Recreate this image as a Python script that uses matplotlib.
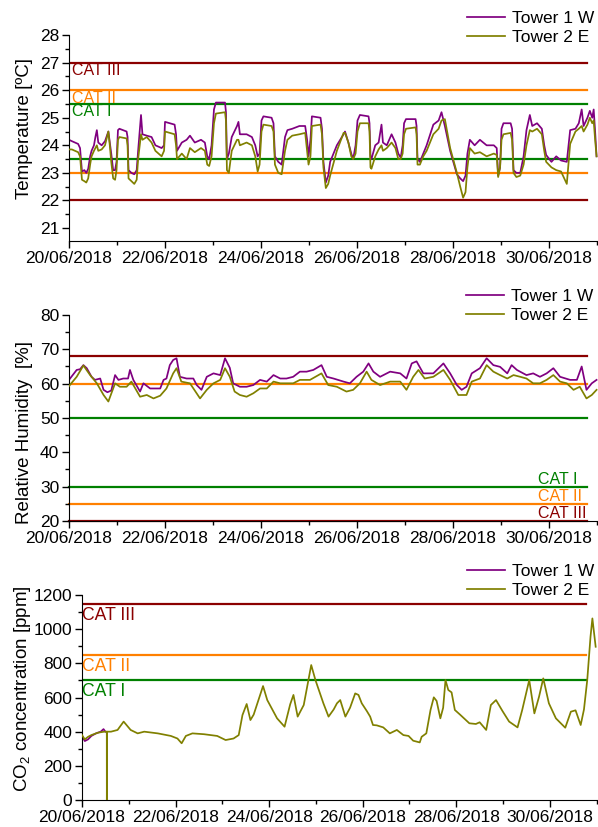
import numpy as np
import matplotlib
matplotlib.use('Agg')
import matplotlib.pyplot as plt
from matplotlib.ticker import MultipleLocator

plt.rcParams['font.family'] = ['Liberation Sans', 'DejaVu Sans']
plt.rcParams['mathtext.fontset'] = 'custom'
plt.rcParams['mathtext.rm'] = 'Liberation Sans'
plt.rcParams['mathtext.it'] = 'Liberation Sans:italic'

##############################################
# Data (x = days since 20/06/2018 00:00)

date_ticks  = [0, 2, 4, 6, 8, 10]
date_labels = ['20/06/2018', '22/06/2018', '24/06/2018', '26/06/2018', '28/06/2018', '30/06/2018']
series_names = ['Tower 1 W', 'Tower 2 E']

# Temperature, Tower 1 W
t_temp_w = [0.00, 0.06, 0.19, 0.23, 0.27, 0.32, 0.36, 0.40, 0.44, 0.47, 0.52, 0.55, 0.58, 0.61, 0.68, 0.75,
            0.82, 0.85, 0.88, 0.92, 0.96, 0.99, 1.02, 1.05, 1.20, 1.22, 1.24, 1.30, 1.36, 1.41, 1.44, 1.50,
            1.53, 1.62, 1.72, 1.80, 1.93, 1.98, 2.00, 2.10, 2.20, 2.23, 2.25, 2.35, 2.45, 2.52, 2.62, 2.75,
            2.83, 2.88, 2.92, 2.97, 3.02, 3.06, 3.25, 3.27, 3.29, 3.33, 3.39, 3.50, 3.53, 3.56, 3.70, 3.81,
            3.88, 3.93, 3.97, 4.01, 4.05, 4.22, 4.26, 4.29, 4.36, 4.43, 4.50, 4.55, 4.65, 4.80, 4.92, 4.96,
            4.99, 5.03, 5.06, 5.24, 5.27, 5.30, 5.35, 5.40, 5.44, 5.58, 5.72, 5.75, 5.82, 5.88, 5.92, 5.97,
            6.01, 6.06, 6.24, 6.26, 6.28, 6.30, 6.38, 6.45, 6.51, 6.54, 6.62, 6.72, 6.80, 6.86, 6.91, 6.95,
            6.98, 7.02, 7.22, 7.24, 7.26, 7.31, 7.38, 7.45, 7.59, 7.70, 7.76, 7.83, 7.94, 8.08, 8.15, 8.21,
            8.26, 8.30, 8.35, 8.45, 8.56, 8.70, 8.85, 8.91, 8.94, 8.98, 9.01, 9.05, 9.20, 9.23, 9.26, 9.32,
            9.40, 9.47, 9.53, 9.60, 9.65, 9.75, 9.85, 9.90, 9.94, 10.05, 10.15, 10.25, 10.37, 10.44, 10.55,
            10.62, 10.68, 10.72, 10.80, 10.85, 10.90, 10.93, 10.96, 10.99]
temp_w = [24.2, 24.15, 24.05, 23.9, 23.05, 23.1, 23.0, 23.15, 23.6, 23.8, 24.0, 24.3, 24.55, 24.1, 24.0, 24.15,
          24.5, 24.1, 23.7, 23.1, 23.1, 23.4, 24.55, 24.6, 24.5, 24.3, 23.1, 23.0, 22.95, 23.1, 23.8, 25.1,
          24.4, 24.35, 24.3, 24.0, 23.9, 24.0, 24.85, 24.8, 24.75, 24.4, 23.8, 24.1, 24.2, 24.35, 24.1, 24.2,
          24.1, 23.6, 23.5, 24.0, 25.3, 25.55, 25.55, 25.2, 23.5, 23.7, 24.3, 24.7, 24.85, 24.4, 24.4, 24.3,
          24.0, 23.6, 23.7, 24.9, 25.05, 25.0, 24.8, 23.6, 23.4, 23.3, 24.3, 24.55, 24.6, 24.7, 24.7, 24.2,
          23.6, 24.2, 25.05, 25.0, 24.6, 23.4, 22.65, 22.9, 23.4, 24.0, 24.4, 24.5, 24.1, 23.7, 23.5, 24.0,
          24.9, 25.1, 25.05, 24.8, 23.6, 23.5, 24.0, 24.1, 24.75, 24.1, 24.0, 24.4, 24.1, 23.7, 23.55, 24.0,
          24.8, 24.95, 24.95, 24.7, 23.5, 23.4, 23.7, 24.0, 24.75, 24.9, 25.2, 24.7, 23.8, 22.95, 22.8, 22.7,
          22.9, 23.7, 24.2, 24.0, 24.2, 24.0, 24.0, 23.9, 22.9, 23.2, 24.6, 24.8, 24.8, 24.6, 23.1, 23.0,
          23.0, 23.6, 24.55, 25.1, 24.7, 24.8, 24.6, 24.0, 23.65, 23.4, 23.6, 23.45, 23.4, 24.55, 24.6,
          24.8, 25.3, 24.7, 25.0, 25.25, 25.0, 25.3, 24.5, 23.6]
# Temperature, Tower 2 E (same time stamps)
t_temp_e = t_temp_w
temp_e = [23.85, 23.85, 23.75, 23.6, 22.75, 22.7, 22.65, 22.8, 23.3, 23.6, 23.8, 23.9, 24.0, 23.8, 23.85, 24.0,
          24.5, 24.0, 23.4, 22.8, 22.75, 23.1, 24.2, 24.3, 24.25, 24.0, 22.8, 22.7, 22.6, 22.75, 23.5, 24.4,
          24.2, 24.3, 24.1, 23.8, 23.6, 23.8, 24.5, 24.45, 24.4, 24.0, 23.5, 23.7, 23.5, 23.9, 23.75, 23.9,
          23.8, 23.3, 23.25, 23.6, 24.8, 25.15, 25.2, 24.9, 23.1, 23.0, 23.8, 24.2, 24.2, 24.0, 24.1, 24.0,
          23.6, 23.05, 23.3, 24.5, 24.75, 24.7, 24.5, 23.3, 23.0, 22.95, 23.8, 24.2, 24.35, 24.4, 24.45, 23.8,
          23.3, 23.6, 24.7, 24.75, 24.4, 23.2, 22.45, 22.6, 22.9, 23.8, 24.45, 24.45, 24.1, 23.6, 23.5, 23.7,
          24.5, 24.8, 24.8, 24.5, 23.2, 23.15, 23.6, 23.85, 24.0, 23.8, 23.9, 24.1, 23.9, 23.5, 23.5, 23.7,
          24.4, 24.6, 24.65, 24.4, 23.3, 23.3, 23.6, 23.8, 24.4, 24.6, 24.9, 24.95, 23.9, 23.0, 22.5, 22.1,
          22.3, 23.2, 23.9, 23.7, 23.75, 23.6, 23.7, 23.65, 22.85, 23.2, 24.2, 24.4, 24.45, 24.2, 23.0, 22.85,
          22.9, 23.3, 24.0, 24.55, 24.5, 24.6, 24.4, 23.8, 23.4, 23.2, 23.1, 23.05, 22.6, 24.05, 24.5,
          24.6, 24.7, 24.5, 24.75, 25.0, 24.8, 24.9, 24.2, 23.6]

# Relative humidity
t_rh_w = [0.00, 0.16, 0.23, 0.30, 0.37, 0.47, 0.54, 0.65, 0.72, 0.80, 0.88, 0.96, 1.03, 1.13, 1.23, 1.27,
          1.34, 1.48, 1.55, 1.69, 1.90, 1.97, 2.03, 2.10, 2.17, 2.24, 2.31, 2.45, 2.59, 2.66, 2.76, 2.87,
          3.01, 3.15, 3.25, 3.35, 3.42, 3.56, 3.70, 3.84, 3.98, 4.12, 4.26, 4.40, 4.53, 4.67, 4.81, 4.95,
          5.09, 5.26, 5.37, 5.51, 5.72, 5.85, 5.99, 6.13, 6.24, 6.34, 6.48, 6.69, 6.90, 7.03, 7.14, 7.24,
          7.38, 7.59, 7.80, 7.94, 8.08, 8.18, 8.28, 8.39, 8.56, 8.70, 8.84, 8.98, 9.13, 9.22, 9.33, 9.53,
          9.67, 9.81, 9.95, 10.09, 10.23, 10.44, 10.58, 10.68, 10.78, 10.89, 10.99]
rh_w = [61.1, 64.0, 64.2, 65.4, 64.5, 62.0, 61.1, 61.5, 58.2, 57.5, 58.0, 62.5, 61.1, 61.5, 61.5, 64.0,
        61.1, 57.7, 60.1, 58.6, 58.6, 61.1, 61.5, 65.4, 66.9, 67.4, 62.0, 61.5, 61.5, 59.6, 58.2, 62.0,
        63.0, 62.5, 67.4, 64.6, 60.1, 59.1, 59.1, 59.6, 61.1, 60.6, 62.5, 61.5, 61.5, 62.0, 63.5, 63.5,
        64.0, 65.4, 62.0, 61.5, 60.6, 60.1, 62.0, 63.5, 65.9, 63.5, 62.0, 63.5, 63.0, 61.5, 65.9, 66.5,
        63.0, 63.0, 65.9, 63.0, 59.6, 58.2, 59.1, 63.0, 64.5, 67.4, 65.4, 64.9, 63.0, 65.4, 64.0, 62.5,
        63.0, 62.0, 63.0, 64.5, 62.0, 61.1, 61.1, 65.0, 58.2, 60.1, 61.1]
t_rh_e = [0.00, 0.16, 0.30, 0.44, 0.58, 0.72, 0.82, 0.96, 1.06, 1.20, 1.30, 1.48, 1.62, 1.76, 1.90, 2.03,
          2.17, 2.24, 2.34, 2.52, 2.73, 2.87, 3.01, 3.15, 3.25, 3.35, 3.45, 3.56, 3.70, 3.84, 3.98, 4.12,
          4.26, 4.40, 4.53, 4.67, 4.81, 5.02, 5.26, 5.40, 5.58, 5.78, 5.92, 6.06, 6.20, 6.30, 6.48, 6.69,
          6.90, 7.03, 7.17, 7.28, 7.41, 7.59, 7.80, 7.94, 8.11, 8.28, 8.39, 8.56, 8.70, 8.84, 8.98, 9.13,
          9.26, 9.40, 9.53, 9.67, 9.81, 9.95, 10.09, 10.23, 10.37, 10.51, 10.64, 10.78, 10.89, 10.99]
rh_e = [59.3, 62.0, 65.3, 62.5, 60.1, 56.7, 54.8, 60.1, 59.1, 59.1, 60.6, 56.2, 56.7, 55.7, 56.5, 58.6,
        63.0, 64.5, 60.6, 60.1, 55.7, 58.2, 60.1, 61.1, 64.5, 62.0, 57.7, 56.7, 56.2, 57.2, 58.6, 58.6,
        60.6, 60.1, 60.1, 60.1, 61.1, 61.1, 63.0, 59.6, 59.1, 57.7, 58.2, 60.1, 63.5, 61.1, 59.6, 60.6,
        60.6, 58.2, 62.0, 64.0, 61.5, 62.0, 64.0, 61.1, 56.7, 56.7, 60.6, 61.5, 65.4, 63.5, 62.5, 61.5,
        62.5, 62.0, 61.5, 60.1, 60.1, 61.1, 62.5, 60.6, 60.1, 58.2, 59.1, 55.7, 56.7, 58.2]

# CO2 concentration
t_co2_w = [0.00, 0.06, 0.13, 0.20, 0.30, 0.40, 0.46, 0.50]
co2_w   = [375, 345, 355, 375, 390, 400, 415, 400]
t_co2_e = [0.00, 0.06, 0.13, 0.20, 0.34, 0.48, 0.53, 0.531, 0.535, 0.62, 0.76, 0.89, 1.04, 1.19, 1.33, 1.62,
           1.90, 2.04, 2.13, 2.22, 2.36, 2.61, 2.89, 3.07, 3.24, 3.35, 3.43, 3.52, 3.60, 3.67, 3.87, 3.96,
           4.17, 4.33, 4.45, 4.52, 4.61, 4.74, 4.90, 4.99, 5.16, 5.27, 5.38, 5.45, 5.52, 5.63, 5.73, 5.84,
           5.91, 5.98, 6.09, 6.16, 6.22, 6.30, 6.44, 6.58, 6.73, 6.87, 6.98, 7.08, 7.22, 7.26, 7.36, 7.45,
           7.52, 7.58, 7.66, 7.72, 7.77, 7.83, 7.90, 7.97, 8.08, 8.28, 8.42, 8.50, 8.64, 8.74, 8.85, 8.99,
           9.13, 9.31, 9.41, 9.56, 9.67, 9.77, 9.86, 9.98, 10.13, 10.33, 10.45, 10.55, 10.66, 10.73, 10.80,
           10.87, 10.91, 10.98]
co2_e = [380, 355, 370, 380, 394, 400, 400, 0, 400, 400, 410, 459, 410, 390, 400, 390,
         375, 360, 332, 375, 390, 385, 375, 351, 360, 380, 497, 562, 468, 500, 667, 585,
         478, 429, 560, 615, 488, 556, 790, 702, 566, 488, 530, 566, 585, 488, 540, 624,
         615, 566, 520, 488, 439, 437, 425, 390, 410, 380, 375, 347, 337, 370, 390, 527,
         601, 580, 478, 540, 702, 644, 630, 527, 500, 449, 445, 455, 410, 556, 585, 520,
         459, 425, 527, 702, 507, 605, 712, 566, 478, 423, 517, 525, 439, 530, 702,
         956, 1063, 897]

# Comfort category limits (lower, upper)
cat_names = ['CAT I', 'CAT II', 'CAT III']
temp_limits = [(23.5, 25.5), (23.0, 26.0), (22.0, 27.0)]
rh_limits   = [(30, 50), (25, 60), (20, 68)]
co2_limits  = [700, 850, 1150]

##############################################
# Plot

C_W = '#800080'
C_E = '#808000'
cat_colors = ['#008000', '#ff8000', '#8b0000']
LIM_END = 10.8
FS = 12.5
LW_DATA = 1.25

fig = plt.figure(figsize=(5.98, 8.27), dpi=100)
ax1 = fig.add_axes([69/598, 1-241/827, 529/598, 206/827])
ax2 = fig.add_axes([69/598, 1-521/827, 529/598, 206/827])
ax3 = fig.add_axes([82/598, 1-800/827, 516/598, 205/827])

def style_axis(ax, xmax):
    ax.set_xlim(0, xmax)
    ax.set_xticks(date_ticks)
    ax.set_xticklabels(date_labels)
    ax.xaxis.set_minor_locator(MultipleLocator(1))
    for s in ['top', 'right']:
        ax.spines[s].set_visible(False)
    ax.tick_params(which='major', direction='out', length=5, width=1, labelsize=FS, pad=2)
    ax.tick_params(which='minor', direction='out', length=3, width=1)

def add_legend(ax, x, y):
    ax.legend(loc='upper left', bbox_to_anchor=(x, y), bbox_transform=fig.transFigure,
              frameon=False, fontsize=FS, borderpad=0, borderaxespad=0,
              handlelength=2.2, handletextpad=0.4, labelspacing=0.2)

# Temperature
for i, (lo, hi) in enumerate(temp_limits):
    ax1.plot([0, LIM_END], [lo, lo], color=cat_colors[i], lw=1.6, zorder=1)
    ax1.plot([0, LIM_END], [hi, hi], color=cat_colors[i], lw=1.6, zorder=1)
    ax1.annotate(cat_names[i], xy=(0.06, hi), xytext=(0, -8), textcoords='offset pixels',
                 color=cat_colors[i], fontsize=11.5, va='center', ha='left')
ax1.plot(t_temp_w, temp_w, color=C_W, lw=LW_DATA, label=series_names[0], zorder=2)
ax1.plot(t_temp_e, temp_e, color=C_E, lw=LW_DATA, label=series_names[1], zorder=3)
style_axis(ax1, 11.02)
ax1.set_ylim(20.53, 28)
ax1.set_yticks(range(21, 29))
ax1.yaxis.set_minor_locator(MultipleLocator(0.5))
ax1.set_ylabel('Temperature [ºC]', fontsize=13.5)
ax1.yaxis.set_label_coords(-0.068, 0.546)
add_legend(ax1, 467/598, 1-11/827)

# Relative humidity
for i, (lo, hi) in enumerate(rh_limits):
    ax2.plot([0, LIM_END], [lo, lo], color=cat_colors[i], lw=1.6, zorder=1, clip_on=False)
    ax2.plot([0, LIM_END], [hi, hi], color=cat_colors[i], lw=1.6, zorder=1)
    ax2.annotate(cat_names[i], xy=(9.77, lo), xytext=(0, 7), textcoords='offset pixels',
                 color=cat_colors[i], fontsize=11.5, va='center', ha='left')
ax2.plot(t_rh_w, rh_w, color=C_W, lw=LW_DATA, label=series_names[0], zorder=2)
ax2.plot(t_rh_e, rh_e, color=C_E, lw=LW_DATA, label=series_names[1], zorder=3)
style_axis(ax2, 11.02)
ax2.set_ylim(20, 80)
ax2.set_yticks(range(20, 81, 10))
ax2.yaxis.set_minor_locator(MultipleLocator(5))
ax2.set_ylabel('Relative Humidity  [%]', fontsize=13.5)
ax2.yaxis.set_label_coords(-0.068, 0.432)
add_legend(ax2, 466/598, 1-289/827)

# CO2
for i, lvl in enumerate(co2_limits):
    ax3.plot([0, 10.77], [lvl, lvl], color=cat_colors[i], lw=1.6, zorder=1)
    ax3.annotate(cat_names[i], xy=(0.01, lvl), xytext=(0, -11.5), textcoords='offset pixels',
                 color=cat_colors[i], fontsize=12.7, va='center', ha='left')
ax3.plot(t_co2_w, co2_w, color=C_W, lw=LW_DATA, label=series_names[0], zorder=2)
ax3.plot(t_co2_e, co2_e, color=C_E, lw=LW_DATA, label=series_names[1], zorder=3)
style_axis(ax3, 11.03)
ax3.set_ylim(0, 1200)
ax3.set_yticks(range(0, 1201, 200))
ax3.yaxis.set_minor_locator(MultipleLocator(100))
ax3.set_ylabel('CO$_2$ concentration [ppm]', fontsize=13.5)
ax3.yaxis.set_label_coords(-0.095, 0.541)
add_legend(ax3, 467/598, 1-564/827)

fig.savefig('out.png', dpi=100)
